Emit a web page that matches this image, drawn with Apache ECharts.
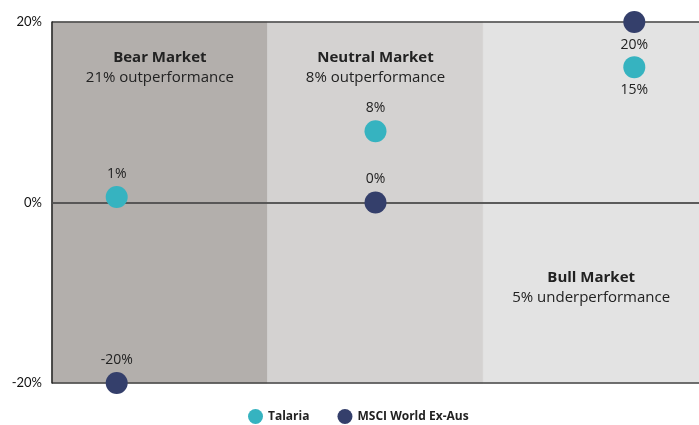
<!DOCTYPE html>
<html>
<head>
<meta charset="utf-8">
<script src="https://cdn.jsdelivr.net/npm/echarts@6/dist/echarts.min.js"></script>
<style>
  html, body { margin: 0; padding: 0; background: #fff; }
  #chart { width: 699px; height: 425px; }
</style>
</head>
<body>
<div id="chart"></div>
<script>
// market regimes (x bands 0-1, 1-2, 2-3)
const regimes = ['Bear Market', 'Neutral Market', 'Bull Market'];
const regimeNotes = ['21% outperformance', '8% outperformance', '5% underperformance'];
const regimeColors = ['#b3afac', '#d4d2d1', '#e3e3e3'];
const pointX = [0.3, 1.5, 2.7];

const talaria = [0.6, 7.9, 15];
const msci = [-20, 0, 20];
const yTicks = [-20, 0, 20];

const axisFont = 'Lato, "Noto Sans", sans-serif';
const textFont = '"Open Sans", "Noto Sans", sans-serif';

const chart = echarts.init(document.getElementById('chart'));

function pts(vals) {
  return vals.map((v, i) => [pointX[i], v]);
}

const areaLabelPos = [['50%', 26], ['50%', 26], ['50%', 246]];

function pointLabel() {
  return {
    show: true, distance: 5,
    formatter: p => Math.round(p.value[1]) + '%',
    fontFamily: textFont, fontSize: 14, color: '#222'
  };
}

chart.setOption({
  animation: false,
  grid: { left: 52, right: 0, top: 22, bottom: 42 },
  legend: {
    bottom: 1,
    left: 248,
    padding: 0,
    itemGap: 28,
    itemWidth: 15,
    itemHeight: 15,
    icon: 'circle',
    textStyle: { fontFamily: textFont, fontSize: 12, fontWeight: 'bold', color: '#222' },
    data: ['Talaria', 'MSCI World Ex-Aus']
  },
  xAxis: {
    type: 'value', min: 0, max: 3, z: 3,
    axisLine: { show: true, lineStyle: { color: '#555', width: 1.5 } },
    axisTick: { show: false }, axisLabel: { show: false }, splitLine: { show: false }
  },
  yAxis: {
    type: 'value', min: yTicks[0], max: yTicks[yTicks.length - 1], interval: 20, z: 3,
    axisLine: { show: true, lineStyle: { color: '#222', width: 1.5 } },
    axisTick: { show: false },
    axisLabel: { formatter: '{value}%', fontFamily: axisFont, fontSize: 13, color: '#111', margin: 10 },
    splitLine: { show: true, lineStyle: { color: '#444', width: 1.5 } }
  },
  series: [
    {
      name: 'Talaria',
      type: 'scatter',
      symbolSize: 22,
      itemStyle: { color: '#36b3c0', opacity: 1 },
      z: 5,
      data: pts(talaria).map((d, i) => ({
        value: d,
        label: { position: i === 2 ? 'bottom' : 'top' }
      })),
      label: pointLabel(),
      markArea: {
        silent: true,
        z: 1,
        data: regimes.map((r, i) => [
          {
            xAxis: i, yAxis: yTicks[yTicks.length - 1],
            itemStyle: { color: regimeColors[i], opacity: 1, borderColor: regimeColors[i], borderWidth: 1 },
            label: {
              show: true, position: areaLabelPos[i],
              formatter: '{t|' + r + '}\n{n|' + regimeNotes[i] + '}'
            }
          },
          { xAxis: i + 1, yAxis: yTicks[0] }
        ]),
        label: {
          align: 'center', verticalAlign: 'top',
          rich: {
            t: { fontFamily: textFont, fontSize: 15, fontWeight: 'bold', color: '#222', lineHeight: 20, align: 'center' },
            n: { fontFamily: textFont, fontSize: 15, color: '#222', lineHeight: 20, align: 'center' }
          }
        }
      }
    },
    {
      name: 'MSCI World Ex-Aus',
      type: 'scatter',
      symbolSize: 22,
      itemStyle: { color: '#343f6b', opacity: 1 },
      z: 5,
      data: pts(msci).map((d, i) => ({
        value: d,
        label: { position: i === 2 ? 'bottom' : 'top' }
      })),
      label: pointLabel()
    }
  ]
});
</script>
</body>
</html>
